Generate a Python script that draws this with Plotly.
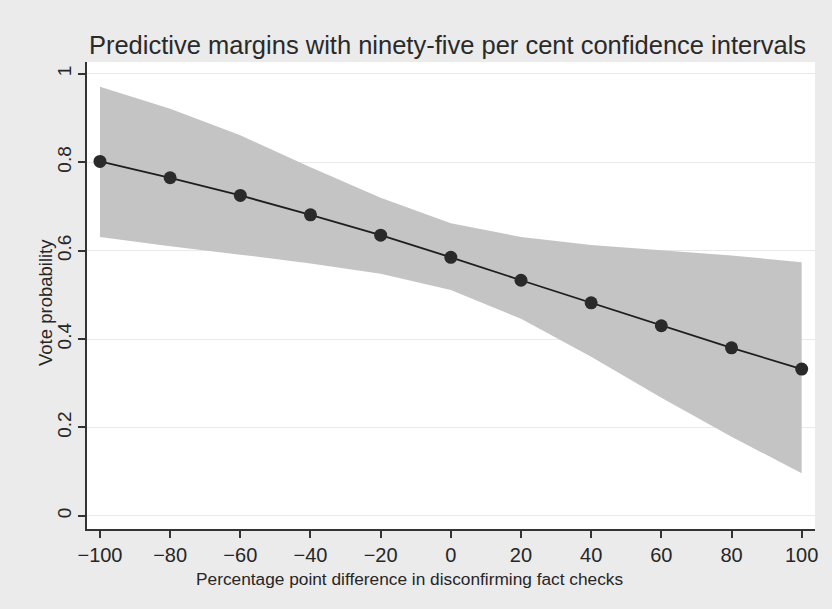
import plotly.graph_objects as go

# Predictive margins and 95% confidence bounds by fact-check difference
fact_check_diff = [-100, -80, -60, -40, -20, 0, 20, 40, 60, 80, 100]
vote_prob = [0.802, 0.765, 0.725, 0.681, 0.635, 0.585, 0.533, 0.482, 0.430, 0.380, 0.332]
ci_upper = [0.971, 0.921, 0.861, 0.789, 0.720, 0.662, 0.631, 0.613, 0.601, 0.589, 0.574]
ci_lower = [0.631, 0.610, 0.591, 0.571, 0.548, 0.511, 0.446, 0.360, 0.267, 0.179, 0.096]

x_ticks = [-100, -80, -60, -40, -20, 0, 20, 40, 60, 80, 100]
x_tick_text = ["\u2212100", "\u221280", "\u221260", "\u221240", "\u221220", "0", "20", "40", "60", "80", "100"]
y_ticks = [0, 0.2, 0.4, 0.6, 0.8, 1]
y_tick_text = ["0", "0.2", "0.4", "0.6", "0.8", "1"]

FONT = "Liberation Sans, Arial, sans-serif"
INK = "#262626"

W, H = 832, 609
ML, MR, MT, MB = 87, 17, 62, 80
PW, PH = W - ML - MR, H - MT - MB

fig = go.Figure()

# Confidence band: lower bound first, upper bound filled down to it
fig.add_trace(go.Scatter(
    x=fact_check_diff, y=ci_lower, mode="lines",
    line=dict(width=0, color="#c4c4c4"), hoverinfo="skip", showlegend=False,
))
fig.add_trace(go.Scatter(
    x=fact_check_diff, y=ci_upper, mode="lines",
    line=dict(width=0, color="#c4c4c4"), fill="tonexty", fillcolor="#c4c4c4",
    hoverinfo="skip", showlegend=False,
))

# Point estimates
fig.add_trace(go.Scatter(
    x=fact_check_diff, y=vote_prob, mode="lines+markers",
    line=dict(color="#1e1e1e", width=1.8),
    marker=dict(color="#2a2a2a", size=13, line=dict(width=0)),
    showlegend=False,
))

fig.update_layout(
    width=W, height=H,
    margin=dict(l=ML, r=MR, t=MT, b=MB),
    paper_bgcolor="#ebebeb",
    plot_bgcolor="#ffffff",
    font=dict(family=FONT, color=INK, size=17),
    title=dict(
        text="Predictive margins with ninety-five per cent confidence intervals",
        x=447.5 / W, xanchor="center", y=1 - 45 / H, yanchor="middle",
        font=dict(family=FONT, size=25.5, color="#2a2a2a"),
    ),
    xaxis=dict(
        range=[-103.7, 103.8],
        tickmode="array", tickvals=x_ticks, ticktext=x_tick_text,
        showgrid=False, zeroline=False,
        showline=True, linecolor="#333333", linewidth=1.5,
        ticks="outside", ticklen=7, tickwidth=1.5, tickcolor="#333333",
        tickfont=dict(size=20, color=INK),
    ),
    yaxis=dict(
        range=[-0.030, 1.027],
        tickmode="array", tickvals=y_ticks, ticktext=y_tick_text,
        tickangle=-90,
        showgrid=True, gridcolor="#e9e9e9", gridwidth=1.2, zeroline=False,
        showline=True, linecolor="#333333", linewidth=1.5,
        ticks="outside", ticklen=7, tickwidth=1.5, tickcolor="#333333",
        tickfont=dict(size=19, color=INK),
    ),
    annotations=[
        dict(text="Percentage point difference in disconfirming fact checks",
             xref="paper", yref="paper",
             x=(410 - ML) / PW, y=-(579 - MT - PH) / PH,
             xanchor="center", yanchor="middle", showarrow=False,
             font=dict(size=17.3, color=INK)),
        dict(text="Vote probability", textangle=-90,
             xref="paper", yref="paper",
             x=(45 - ML) / PW, y=1 - (303 - MT) / PH,
             xanchor="center", yanchor="middle", showarrow=False,
             font=dict(size=18.5, color=INK)),
    ],
)

fig.write_html("out.html")
